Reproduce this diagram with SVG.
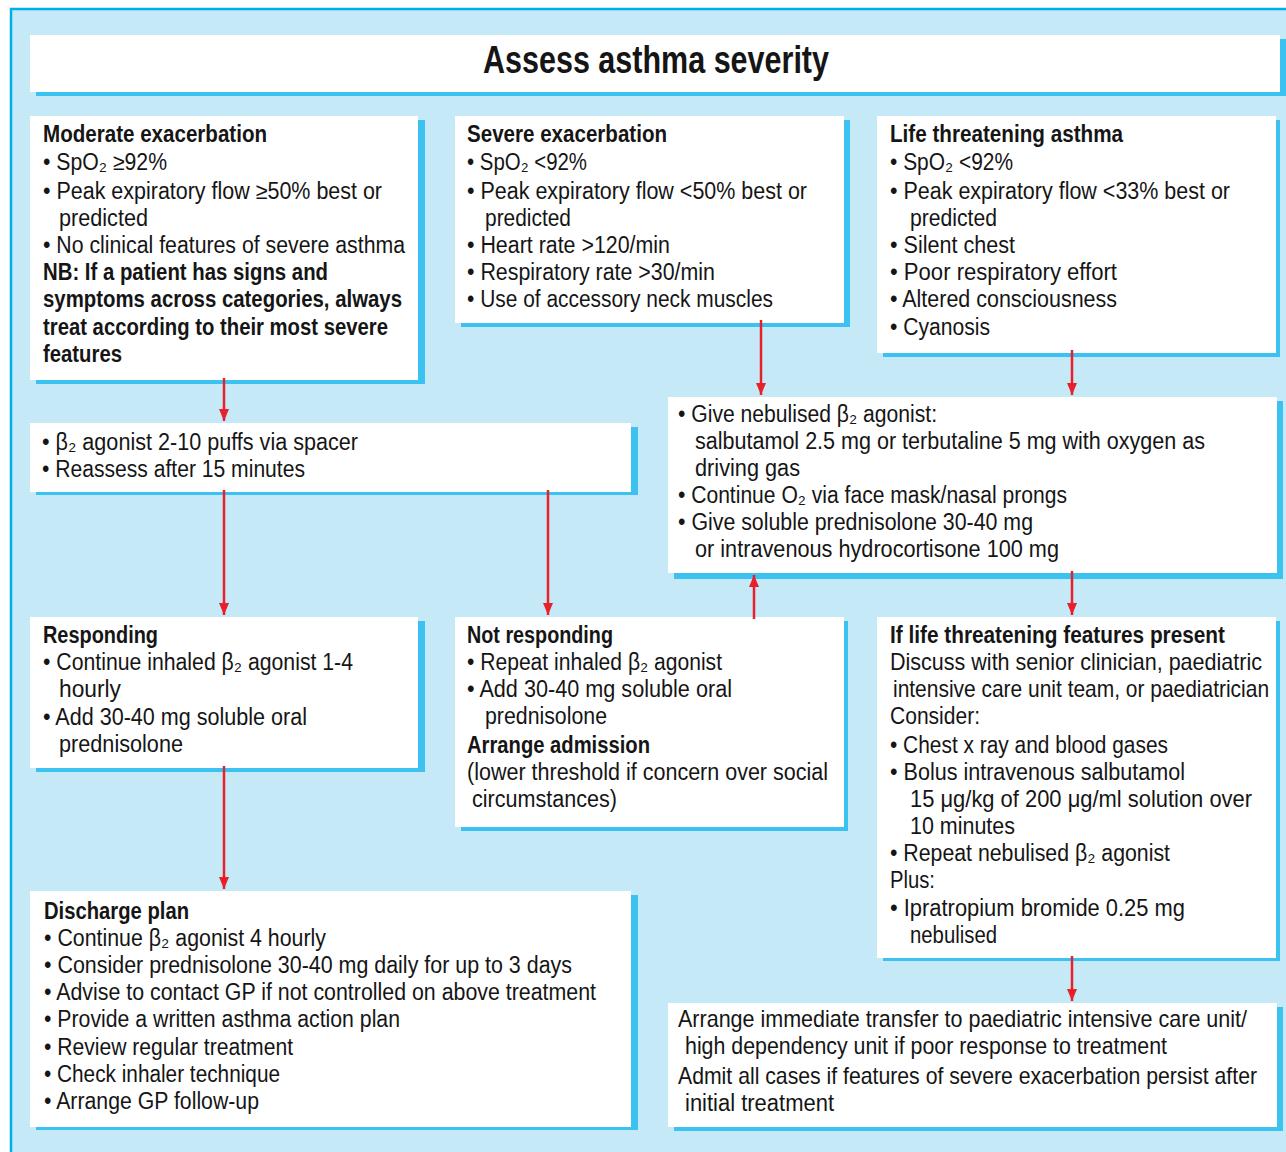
<svg xmlns="http://www.w3.org/2000/svg" width="1286" height="1152" viewBox="0 0 1286 1152">
<style>
.bg{fill:#C6E9F8;stroke:#00AEEF;stroke-width:2.5}
.box{fill:#FFFFFF}
.sh{fill:#3CC2F0}
.t{font-family:"Liberation Sans","DejaVu Sans",Arial,sans-serif;font-size:23px;fill:#151515}
.b{font-weight:bold}
.ttl{font-family:"Liberation Sans",Arial,sans-serif;font-size:38px;font-weight:bold;fill:#151515}
.con line{stroke:#E8202A;stroke-width:2.5}
</style>
<defs>
<marker id="ah" viewBox="0 0 12 10" refX="12" refY="5" markerWidth="12" markerHeight="10" markerUnits="userSpaceOnUse" orient="auto">
<path d="M0,0 L12,5 L0,10 z" fill="#E8202A"/>
</marker>
</defs>
<rect x="0" y="0" width="1286" height="1152" fill="#FFFFFF"/>
<rect class="bg" x="11" y="9" width="1300" height="1170"/>

<g id="title">
<rect class="sh" x="36" y="39" width="1250" height="57"/>
<rect class="box" x="30" y="35" width="1250" height="57"/>
<text class="ttl" x="483" y="73" textLength="346" lengthAdjust="spacingAndGlyphs">Assess asthma severity</text>
</g>

<g id="moderate">
<rect class="sh" x="36" y="120" width="389" height="264"/>
<rect class="box" x="30" y="116" width="388" height="264"/>
<text class="t b" x="43" y="142" textLength="224" lengthAdjust="spacingAndGlyphs">Moderate exacerbation</text>
<text class="t" x="43" y="170" textLength="124" lengthAdjust="spacingAndGlyphs">• SpO₂ ≥92%</text>
<text class="t" x="43" y="199" textLength="339" lengthAdjust="spacingAndGlyphs">• Peak expiratory flow ≥50% best or</text>
<text class="t" x="59" y="226" textLength="89" lengthAdjust="spacingAndGlyphs">predicted</text>
<text class="t" x="43" y="253" textLength="362" lengthAdjust="spacingAndGlyphs">• No clinical features of severe asthma</text>
<text class="t b" x="43" y="280" textLength="285" lengthAdjust="spacingAndGlyphs">NB: If a patient has signs and</text>
<text class="t b" x="43" y="307" textLength="359" lengthAdjust="spacingAndGlyphs">symptoms across categories, always</text>
<text class="t b" x="43" y="335" textLength="345" lengthAdjust="spacingAndGlyphs">treat according to their most severe</text>
<text class="t b" x="43" y="362" textLength="79" lengthAdjust="spacingAndGlyphs">features</text>
</g>

<g id="severe">
<rect class="sh" x="461" y="120" width="389" height="207"/>
<rect class="box" x="455" y="116" width="389" height="207"/>
<text class="t b" x="467" y="142" textLength="200" lengthAdjust="spacingAndGlyphs">Severe exacerbation</text>
<text class="t" x="467" y="170" textLength="120" lengthAdjust="spacingAndGlyphs">• SpO₂ &lt;92%</text>
<text class="t" x="467" y="199" textLength="340" lengthAdjust="spacingAndGlyphs">• Peak expiratory flow &lt;50% best or</text>
<text class="t" x="485" y="226" textLength="86" lengthAdjust="spacingAndGlyphs">predicted</text>
<text class="t" x="467" y="253" textLength="203" lengthAdjust="spacingAndGlyphs">• Heart rate &gt;120/min</text>
<text class="t" x="467" y="280" textLength="248" lengthAdjust="spacingAndGlyphs">• Respiratory rate &gt;30/min</text>
<text class="t" x="467" y="307" textLength="306" lengthAdjust="spacingAndGlyphs">• Use of accessory neck muscles</text>
</g>

<g id="life">
<rect class="sh" x="883" y="120" width="397" height="237"/>
<rect class="box" x="877" y="116" width="399" height="237"/>
<text class="t b" x="890" y="142" textLength="233" lengthAdjust="spacingAndGlyphs">Life threatening asthma</text>
<text class="t" x="890" y="170" textLength="123" lengthAdjust="spacingAndGlyphs">• SpO₂ &lt;92%</text>
<text class="t" x="890" y="199" textLength="340" lengthAdjust="spacingAndGlyphs">• Peak expiratory flow &lt;33% best or</text>
<text class="t" x="910" y="226" textLength="87" lengthAdjust="spacingAndGlyphs">predicted</text>
<text class="t" x="890" y="253" textLength="125" lengthAdjust="spacingAndGlyphs">• Silent chest</text>
<text class="t" x="890" y="280" textLength="227" lengthAdjust="spacingAndGlyphs">• Poor respiratory effort</text>
<text class="t" x="890" y="307" textLength="227" lengthAdjust="spacingAndGlyphs">• Altered consciousness</text>
<text class="t" x="890" y="335" textLength="100" lengthAdjust="spacingAndGlyphs">• Cyanosis</text>
</g>

<g id="spacer">
<rect class="sh" x="36" y="427" width="602" height="68"/>
<rect class="box" x="30" y="423" width="601" height="69"/>
<text class="t" x="42" y="450" textLength="316" lengthAdjust="spacingAndGlyphs">• β₂ agonist 2-10 puffs via spacer</text>
<text class="t" x="42" y="477" textLength="263" lengthAdjust="spacingAndGlyphs">• Reassess after 15 minutes</text>
</g>

<g id="nebulised">
<rect class="sh" x="674" y="401" width="609" height="178"/>
<rect class="box" x="668" y="397" width="609" height="176"/>
<text class="t" x="678" y="422" textLength="259" lengthAdjust="spacingAndGlyphs">• Give nebulised β₂ agonist:</text>
<text class="t" x="695" y="449" textLength="510" lengthAdjust="spacingAndGlyphs">salbutamol 2.5 mg or terbutaline 5 mg with oxygen as</text>
<text class="t" x="695" y="476" textLength="105" lengthAdjust="spacingAndGlyphs">driving gas</text>
<text class="t" x="678" y="503" textLength="389" lengthAdjust="spacingAndGlyphs">• Continue O₂ via face mask/nasal prongs</text>
<text class="t" x="678" y="530" textLength="355" lengthAdjust="spacingAndGlyphs">• Give soluble prednisolone 30-40 mg</text>
<text class="t" x="695" y="557" textLength="364" lengthAdjust="spacingAndGlyphs">or intravenous hydrocortisone 100 mg</text>
</g>

<g id="responding">
<rect class="sh" x="36" y="621" width="389" height="151"/>
<rect class="box" x="30" y="617" width="388" height="151"/>
<text class="t b" x="43" y="643" textLength="115" lengthAdjust="spacingAndGlyphs">Responding</text>
<text class="t" x="43" y="670" textLength="310" lengthAdjust="spacingAndGlyphs">• Continue inhaled β₂ agonist 1-4</text>
<text class="t" x="59" y="697" textLength="62" lengthAdjust="spacingAndGlyphs">hourly</text>
<text class="t" x="43" y="725" textLength="264" lengthAdjust="spacingAndGlyphs">• Add 30-40 mg soluble oral</text>
<text class="t" x="59" y="752" textLength="124" lengthAdjust="spacingAndGlyphs">prednisolone</text>
</g>

<g id="notresponding">
<rect class="sh" x="461" y="621" width="387" height="210"/>
<rect class="box" x="455" y="617" width="389" height="210"/>
<text class="t b" x="467" y="643" textLength="146" lengthAdjust="spacingAndGlyphs">Not responding</text>
<text class="t" x="467" y="670" textLength="255" lengthAdjust="spacingAndGlyphs">• Repeat inhaled β₂ agonist</text>
<text class="t" x="467" y="697" textLength="265" lengthAdjust="spacingAndGlyphs">• Add 30-40 mg soluble oral</text>
<text class="t" x="485" y="724" textLength="122" lengthAdjust="spacingAndGlyphs">prednisolone</text>
<text class="t b" x="467" y="753" textLength="183" lengthAdjust="spacingAndGlyphs">Arrange admission</text>
<text class="t" x="467" y="780" textLength="361" lengthAdjust="spacingAndGlyphs">(lower threshold if concern over social</text>
<text class="t" x="472" y="807" textLength="145" lengthAdjust="spacingAndGlyphs">circumstances)</text>
</g>

<g id="lifefeatures">
<rect class="sh" x="883" y="621" width="397" height="340"/>
<rect class="box" x="877" y="617" width="399" height="341"/>
<text class="t b" transform="translate(890,643) scale(0.85,1)" textLength="394.1" lengthAdjust="spacingAndGlyphs">If life threatening features present</text>
<text class="t" transform="translate(890,670) scale(0.85,1)" textLength="437.6" lengthAdjust="spacingAndGlyphs">Discuss with senior clinician, paediatric</text>
<text class="t" transform="translate(893,697) scale(0.85,1)" textLength="442.4" lengthAdjust="spacingAndGlyphs">intensive care unit team, or paediatrician</text>
<text class="t" x="890" y="724" textLength="90" lengthAdjust="spacingAndGlyphs">Consider:</text>
<text class="t" x="890" y="753" textLength="278" lengthAdjust="spacingAndGlyphs">• Chest x ray and blood gases</text>
<text class="t" x="890" y="780" textLength="295" lengthAdjust="spacingAndGlyphs">• Bolus intravenous salbutamol</text>
<text class="t" transform="translate(910,807) scale(0.85,1)" textLength="402.4" lengthAdjust="spacingAndGlyphs">15 μg/kg of 200 μg/ml solution over</text>
<text class="t" x="910" y="834" textLength="105" lengthAdjust="spacingAndGlyphs">10 minutes</text>
<text class="t" x="890" y="861" textLength="280" lengthAdjust="spacingAndGlyphs">• Repeat nebulised β₂ agonist</text>
<text class="t" x="890" y="888" textLength="45" lengthAdjust="spacingAndGlyphs">Plus:</text>
<text class="t" x="890" y="916" textLength="295" lengthAdjust="spacingAndGlyphs">• Ipratropium bromide 0.25 mg</text>
<text class="t" x="910" y="943" textLength="87" lengthAdjust="spacingAndGlyphs">nebulised</text>
</g>

<g id="discharge">
<rect class="sh" x="36" y="895" width="602" height="235"/>
<rect class="box" x="30" y="891" width="601" height="236"/>
<text class="t b" x="44" y="919" textLength="145" lengthAdjust="spacingAndGlyphs">Discharge plan</text>
<text class="t" x="44" y="946" textLength="282" lengthAdjust="spacingAndGlyphs">• Continue β₂ agonist 4 hourly</text>
<text class="t" x="44" y="973" textLength="528" lengthAdjust="spacingAndGlyphs">• Consider prednisolone 30-40 mg daily for up to 3 days</text>
<text class="t" x="44" y="1000" textLength="552" lengthAdjust="spacingAndGlyphs">• Advise to contact GP if not controlled on above treatment</text>
<text class="t" x="44" y="1027" textLength="356" lengthAdjust="spacingAndGlyphs">• Provide a written asthma action plan</text>
<text class="t" x="44" y="1055" textLength="249" lengthAdjust="spacingAndGlyphs">• Review regular treatment</text>
<text class="t" x="44" y="1082" textLength="236" lengthAdjust="spacingAndGlyphs">• Check inhaler technique</text>
<text class="t" x="44" y="1109" textLength="215" lengthAdjust="spacingAndGlyphs">• Arrange GP follow-up</text>
</g>

<g id="transfer">
<rect class="sh" x="674" y="1007" width="609" height="124"/>
<rect class="box" x="668" y="1003" width="609" height="124"/>
<text class="t" transform="translate(678,1027) scale(0.85,1)" textLength="669.4" lengthAdjust="spacingAndGlyphs">Arrange immediate transfer to paediatric intensive care unit/</text>
<text class="t" x="685" y="1054" textLength="482" lengthAdjust="spacingAndGlyphs">high dependency unit if poor response to treatment</text>
<text class="t" transform="translate(678,1084) scale(0.85,1)" textLength="681.2" lengthAdjust="spacingAndGlyphs">Admit all cases if features of severe exacerbation persist after</text>
<text class="t" x="685" y="1111" textLength="149" lengthAdjust="spacingAndGlyphs">initial treatment</text>
</g>

<g id="connectors" class="con">
<line x1="224" y1="378" x2="224" y2="421" marker-end="url(#ah)"/>
<line x1="224" y1="490" x2="224" y2="615" marker-end="url(#ah)"/>
<line x1="548" y1="490" x2="548" y2="615" marker-end="url(#ah)"/>
<line x1="761" y1="320" x2="761" y2="395" marker-end="url(#ah)"/>
<line x1="1072" y1="350" x2="1072" y2="395" marker-end="url(#ah)"/>
<line x1="1072" y1="571" x2="1072" y2="615" marker-end="url(#ah)"/>
<line x1="754" y1="619" x2="754" y2="575" marker-end="url(#ah)"/>
<line x1="224" y1="766" x2="224" y2="889" marker-end="url(#ah)"/>
<line x1="1072" y1="956" x2="1072" y2="1001" marker-end="url(#ah)"/>
</g>
</svg>
